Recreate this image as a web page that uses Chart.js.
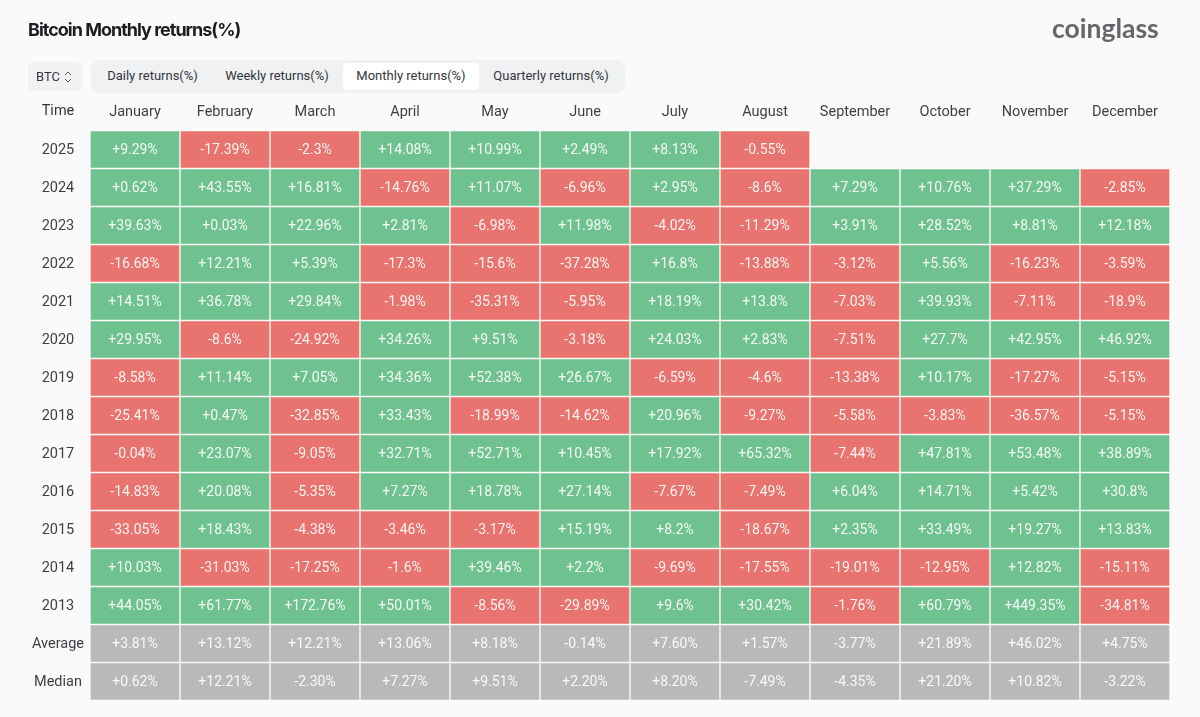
<!DOCTYPE html>
<html>
<head>
<meta charset="utf-8">
<title>Bitcoin Monthly returns(%)</title>
<script src="https://cdn.jsdelivr.net/npm/chart.js@4/dist/chart.umd.min.js"></script>
<style>
  html, body { margin: 0; padding: 0; background: #fafafa; }
  body { width: 1200px; height: 717px; position: relative; overflow: hidden; font-family: Roboto, sans-serif; color: #33363b; }
  canvas { position: absolute; left: 0; top: 0; }
  .abs { position: absolute; white-space: nowrap; }
  #title { left: 28px; top: 19px; font: 700 18px Inter, sans-serif; letter-spacing: -1px; color: #1b1d21; }
  #logo { left: 1052px; top: 12px; font: 700 26.5px Lato, sans-serif; letter-spacing: 0; color: #64666a; }
  #coin { left: 28px; top: 62px; width: 54px; height: 29px; background: #f0f1f3; border-radius: 5px; }
  #coin span { position: absolute; left: 8px; top: 6px; font-size: 13px; line-height: 17px; }
  #coin svg { position: absolute; left: 36px; top: 8px; }
  #tabs { left: 91px; top: 60px; width: 534px; height: 33px; background: #f0f1f3; border-radius: 9px; }
  #active { left: 343px; top: 63px; width: 136px; height: 27px; background: #fff; border-radius: 4px; }
  .tab { top: 67px; font-size: 13px; line-height: 18px; transform: translateX(-50%); }
  #time { left: 58px; top: 101px; font-size: 14.5px; line-height: 20px; transform: translateX(-50%); }
</style>
</head>
<body>
<canvas id="returnsChart" width="1200" height="717"></canvas>
<div class="abs" id="title">Bitcoin Monthly returns(%)</div>
<div class="abs" id="logo">coinglass</div>
<div class="abs" id="coin"><span>BTC</span>
  <svg width="8" height="14" viewBox="0 0 8 14" fill="none" stroke="#55585e" stroke-width="1"><path d="M1 5 L4 2 L7 5"/><path d="M1 9 L4 12 L7 9"/></svg>
</div>
<div class="abs" id="tabs"></div>
<div class="abs" id="active"></div>
<div class="abs tab" style="left:152.5px">Daily returns(%)</div>
<div class="abs tab" style="left:277px">Weekly returns(%)</div>
<div class="abs tab" style="left:411px">Monthly returns(%)</div>
<div class="abs tab" style="left:551px">Quarterly returns(%)</div>
<div class="abs" id="time">Time</div>

<script>
const months = ["January", "February", "March", "April", "May", "June", "July", "August", "September", "October", "November", "December"];
const rowLabels = ["2025", "2024", "2023", "2022", "2021", "2020", "2019", "2018", "2017", "2016", "2015", "2014", "2013", "Average", "Median"];

const y2025 = [9.29, -17.39, -2.3, 14.08, 10.99, 2.49, 8.13, -0.55, null, null, null, null];
const y2024 = [0.62, 43.55, 16.81, -14.76, 11.07, -6.96, 2.95, -8.6, 7.29, 10.76, 37.29, -2.85];
const y2023 = [39.63, 0.03, 22.96, 2.81, -6.98, 11.98, -4.02, -11.29, 3.91, 28.52, 8.81, 12.18];
const y2022 = [-16.68, 12.21, 5.39, -17.3, -15.6, -37.28, 16.8, -13.88, -3.12, 5.56, -16.23, -3.59];
const y2021 = [14.51, 36.78, 29.84, -1.98, -35.31, -5.95, 18.19, 13.8, -7.03, 39.93, -7.11, -18.9];
const y2020 = [29.95, -8.6, -24.92, 34.26, 9.51, -3.18, 24.03, 2.83, -7.51, 27.7, 42.95, 46.92];
const y2019 = [-8.58, 11.14, 7.05, 34.36, 52.38, 26.67, -6.59, -4.6, -13.38, 10.17, -17.27, -5.15];
const y2018 = [-25.41, 0.47, -32.85, 33.43, -18.99, -14.62, 20.96, -9.27, -5.58, -3.83, -36.57, -5.15];
const y2017 = [-0.04, 23.07, -9.05, 32.71, 52.71, 10.45, 17.92, 65.32, -7.44, 47.81, 53.48, 38.89];
const y2016 = [-14.83, 20.08, -5.35, 7.27, 18.78, 27.14, -7.67, -7.49, 6.04, 14.71, 5.42, 30.8];
const y2015 = [-33.05, 18.43, -4.38, -3.46, -3.17, 15.19, 8.2, -18.67, 2.35, 33.49, 19.27, 13.83];
const y2014 = [10.03, -31.03, -17.25, -1.6, 39.46, 2.2, -9.69, -17.55, -19.01, -12.95, 12.82, -15.11];
const y2013 = [44.05, 61.77, 172.76, 50.01, -8.56, -29.89, 9.6, 30.42, -1.76, 60.79, 449.35, -34.81];
const average = [3.81, 13.12, 12.21, 13.06, 8.18, -0.14, 7.6, 1.57, -3.77, 21.89, 46.02, 4.75];
const median = [0.62, 12.21, -2.3, 7.27, 9.51, 2.2, 8.2, -7.49, -4.35, 21.2, 10.82, -3.22];

const rowValues = [y2025, y2024, y2023, y2022, y2021, y2020, y2019, y2018, y2017, y2016, y2015, y2014, y2013, average, median];

const GREEN = "#6fc28f";
const RED = "#e8736f";
const GRAY = "#b9b9b9";

function isSummary(row) {
  return row >= rowLabels.indexOf("Average");
}

function cellText(v, row) {
  // summary rows keep two decimals, the years do not
  const num = isSummary(row) ? Math.abs(v).toFixed(2) : String(Math.abs(v));
  return (v < 0 ? "-" : "+") + num + "%";
}

// one floating bar per cell, each row takes one unit on the y scale
const datasets = rowValues.map((vals, row) => ({
  label: rowLabels[row],
  data: vals.map((v) => (v === null ? null : [row, row + 1])),
  backgroundColor: vals.map((v) => (isSummary(row) ? GRAY : v < 0 ? RED : GREEN)),
  borderColor: "#fbfbf8",
  borderWidth: 1,
  borderSkipped: false,
  categoryPercentage: 1,
  barPercentage: 1,
  grouped: false,
}));

const cellLabels = {
  id: "cellLabels",
  afterDatasetsDraw(chart) {
    const ctx = chart.ctx;
    ctx.save();
    ctx.font = "14px Roboto, sans-serif";
    ctx.fillStyle = "rgba(255,255,255,0.92)";
    ctx.textAlign = "center";
    ctx.textBaseline = "middle";
    rowValues.forEach((vals, row) => {
      const bars = chart.getDatasetMeta(row).data;
      vals.forEach((v, col) => {
        if (v === null) return;
        const bar = bars[col];
        ctx.fillText(cellText(v, row), bar.x, (bar.y + bar.base) / 2 + 1);
      });
    });
    ctx.restore();
  },
};

new Chart(document.getElementById("returnsChart"), {
  type: "bar",
  data: { labels: months, datasets: datasets },
  plugins: [cellLabels],
  options: {
    responsive: false,
    animation: false,
    layout: { padding: { left: 26, right: 30, top: 0, bottom: 16.5 } },
    plugins: { legend: { display: false }, tooltip: { enabled: false } },
    scales: {
      x: {
        position: "top",
        grid: { display: false, drawTicks: false },
        border: { display: false },
        ticks: { color: "#3c3f44", font: { family: "Roboto", size: 14.5 }, padding: 9, maxRotation: 0 },
        afterFit(scale) { scale.height = 130.5; },
      },
      y: {
        reverse: true,
        min: 0,
        max: rowLabels.length,
        grid: { display: false, drawTicks: false },
        border: { display: false },
        afterBuildTicks(scale) {
          // a hair under the row centre, the labels sit slightly low
          scale.ticks = rowLabels.map((r, i) => ({ value: i + 0.53 }));
        },
        ticks: {
          color: "#3c3f44",
          font: { family: "Roboto", size: 14.5 },
          padding: 6,
          crossAlign: "center",
          callback: (value) => rowLabels[Math.floor(value)],
        },
        afterFit(scale) { scale.width = 64; },
      },
    },
  },
});
</script>
</body>
</html>
